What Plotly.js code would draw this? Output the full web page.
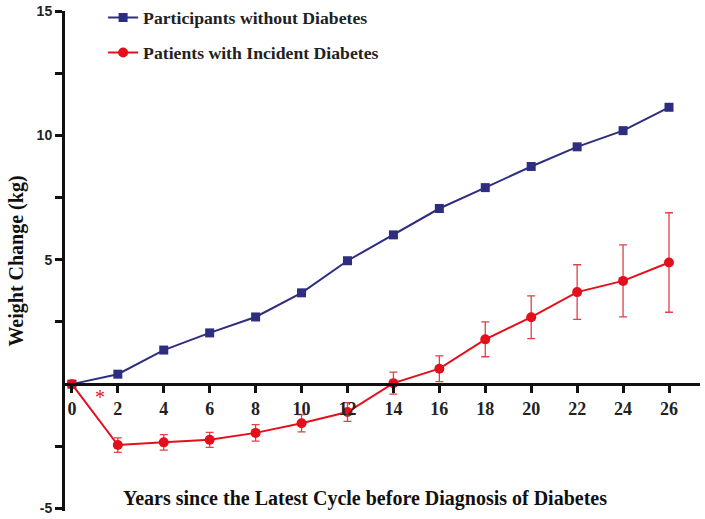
<!DOCTYPE html>
<html>
<head>
<meta charset="utf-8">
<script src="https://cdn.plot.ly/plotly-3.0.1.min.js"></script>
<style>html,body{margin:0;padding:0;background:#fff;}#chart{width:705px;height:519px;}</style>
</head>
<body>
<div id="chart"></div>
<script>
const years = [0, 2, 4, 6, 8, 10, 12, 14, 16, 18, 20, 22, 24, 26];
const withoutDiabetes = [0, 0.4, 1.37, 2.06, 2.7, 3.67, 4.96, 6.0, 7.06, 7.9, 8.75, 9.54, 10.19, 11.13];
const incidentDiabetes = [0, -2.45, -2.34, -2.24, -1.96, -1.57, -1.12, 0.04, 0.62, 1.8, 2.69, 3.7, 4.15, 4.89];
const incidentErr = [0, 0.29, 0.31, 0.3, 0.33, 0.35, 0.38, 0.44, 0.52, 0.7, 0.86, 1.1, 1.45, 2.0];
const xTickVals = [0, 2, 4, 6, 8, 10, 12, 14, 16, 18, 20, 22, 24, 26];
const xTickText = ["0", "2", "4", "6", "8", "10", "12", "14", "16", "18", "20", "22", "24", "26"];
const yTickVals = [-5, -2.5, 2.5, 5, 7.5, 10, 12.5, 15];
const yTickText = ["-5", "", "", "5", "", "10", "", "15"];

const serif = "'Liberation Serif', 'Times New Roman', serif";
const sans = "'Liberation Sans', Arial, sans-serif";
const blue = "#2e2d80";
const red = "#e3101c";
const yRange = [-5.1, 15];
const bold = s => s === "" ? "" : "<b>" + s + "</b>";

const traces = [
  {
    x: years, y: withoutDiabetes, name: "<b>Participants without Diabetes</b>",
    type: "scatter", mode: "lines+markers", legendgroup: "a",
    line: {color: blue, width: 2},
    marker: {symbol: "square", size: 9, color: blue}
  },
  {
    x: years, y: incidentDiabetes, name: "<b>Patients with Incident Diabetes</b>",
    type: "scatter", mode: "lines+markers", legendgroup: "b",
    line: {color: red, width: 2},
    marker: {symbol: "circle", size: 10, color: red},
    error_y: {type: "data", array: incidentErr, visible: true, color: "#e0404a", thickness: 1.3, width: 4}
  }
];

const layout = {
  width: 705, height: 519,
  margin: {l: 65, r: 5, t: 11, b: 8, autoexpand: false},
  paper_bgcolor: "#fff", plot_bgcolor: "#fff",
  showlegend: true,
  legend: {
    x: 0.06, y: 1.023, xanchor: "left", yanchor: "top",
    font: {family: serif, size: 17.7, color: "#222"},
    tracegroupgap: 9, itemwidth: 30, bgcolor: "rgba(0,0,0,0)"
  },
  xaxis: {
    range: [-0.3, 27.35],
    anchor: "free", position: (0 - yRange[0]) / (yRange[1] - yRange[0]),
    showline: true, linecolor: "#111", linewidth: 3,
    showgrid: false, zeroline: false,
    tickmode: "array", tickvals: xTickVals, ticktext: xTickText.map(bold),
    ticks: "outside", ticklen: 7, tickwidth: 3, tickcolor: "#111",
    tickfont: {family: serif, size: 18, color: "#222"}
  },
  yaxis: {
    range: yRange,
    showline: true, linecolor: "#111", linewidth: 3,
    showgrid: false, zeroline: false,
    tickmode: "array", tickvals: yTickVals, ticktext: yTickText.map(bold),
    ticks: "outside", ticklen: 7, tickwidth: 3, tickcolor: "#111",
    tickfont: {family: sans, size: 14, color: "#222"},
    title: {text: "<b>Weight Change (kg)</b>",
      font: {family: serif, size: 20, color: "#111"}, standoff: 8}
  },
  annotations: [
    {x: 0.472, y: 0.026, xref: "paper", yref: "paper", xanchor: "center", yanchor: "middle",
      text: "<b>Years since the Latest Cycle before Diagnosis of Diabetes</b>", showarrow: false,
      font: {family: serif, size: 20, color: "#111"}},
    {x: 1.22, y: -0.5, xref: "x", yref: "y", text: "*", showarrow: false,
      font: {family: serif, size: 20, color: red}}
  ]
};

Plotly.newPlot("chart", traces, layout, {staticPlot: true, displayModeBar: false});
</script>
</body>
</html>
